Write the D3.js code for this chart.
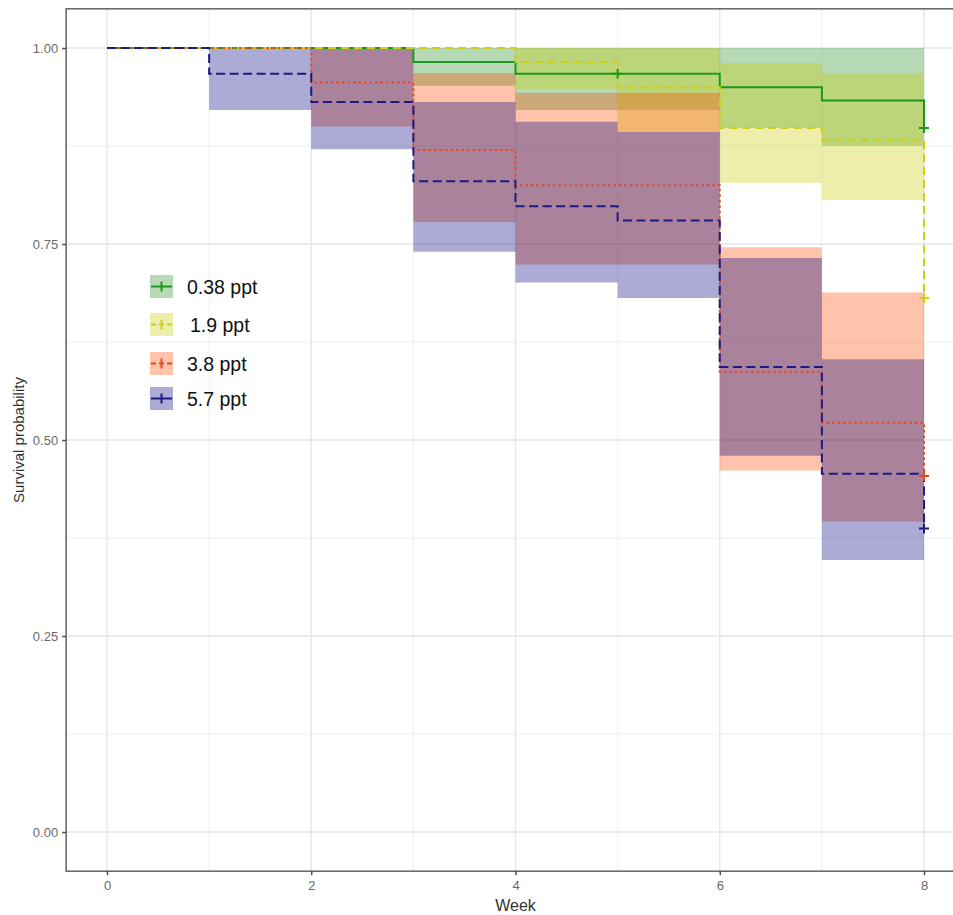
<!DOCTYPE html>
<html>
<head>
<meta charset="utf-8">
<script src="https://cdn.jsdelivr.net/npm/d3@7"></script>
<style>
  html, body { margin: 0; padding: 0; background: #fff; }
  svg { display: block; font-family: "Liberation Sans", Arial, sans-serif; }
</style>
</head>
<body>
<svg id="chart" width="953" height="915"></svg>
<script>
// ---- data ----
const weeks = [0, 1, 2, 3, 4, 5, 6, 7, 8];
const groups = ["0.38 ppt", "1.9 ppt", "3.8 ppt", "5.7 ppt"];

// survival at the start of each week interval; last value = after the drop at week 8
const survLow   = [1, 1, 1, 0.982, 0.967, 0.967, 0.950, 0.933, 0.898];
const survMid   = [1, 1, 1, 1, 0.982, 0.950, 0.898, 0.883, 0.681];
const survHigh  = [1, 1, 0.956, 0.870, 0.825, 0.825, 0.587, 0.522, 0.454];
const survMax   = [1, 0.967, 0.931, 0.830, 0.798, 0.780, 0.593, 0.457, 0.387];

// confidence band per interval (weeks 0-1 ... 7-8)
const lowerLow  = [1, 1, 1, 0.952, 0.921, 0.921, 0.898, 0.875];
const upperLow  = [1, 1, 1, 1, 1, 1, 1, 1];
const lowerMid  = [1, 1, 1, 1, 0.947, 0.893, 0.828, 0.806];
const upperMid  = [1, 1, 1, 1, 1, 1, 0.981, 0.968];
const lowerHigh = [1, 1, 0.900, 0.778, 0.724, 0.724, 0.461, 0.396];
const upperHigh = [1, 1, 1, 0.968, 0.943, 0.943, 0.746, 0.688];
const lowerMax  = [1, 0.921, 0.871, 0.740, 0.701, 0.681, 0.480, 0.347];
const upperMax  = [1, 1, 1, 0.931, 0.906, 0.893, 0.732, 0.603];

// censor marks: [week, survival]
const censorLow  = [[5, 0.967], [8, 0.898]];
const censorMid  = [[8, 0.681]];
const censorHigh = [[8, 0.454]];
const censorMax  = [[8, 0.387]];

const xTicks = [0, 2, 4, 6, 8];
const yTicks = [0, 0.25, 0.5, 0.75, 1];
const yTickLabels = ["0.00", "0.25", "0.50", "0.75", "1.00"];

// ---- styles ----
const series = [
  { name: groups[0], surv: survLow,  lo: lowerLow,  hi: upperLow,  cens: censorLow,  line: "#1c981c", fill: "#1f8f1f", dash: null,    keyDash: null },
  { name: groups[1], surv: survMid,  lo: lowerMid,  hi: upperMid,  cens: censorMid,  line: "#cbd11a", fill: "#cccc00", dash: "8,5",   keyDash: "5,3" },
  { name: groups[2], surv: survHigh, lo: lowerHigh, hi: upperHigh, cens: censorHigh, line: "#e64a22", fill: "#ff4500", dash: "2.5,3", keyDash: "5,3" },
  { name: groups[3], surv: survMax,  lo: lowerMax,  hi: upperMax,  cens: censorMax,  line: "#1d1a82", fill: "#000080", dash: "9,4.5", keyDash: null }
];
const bandOpacity = 0.33;

const svg = d3.select("#chart");
const x = d3.scaleLinear().domain([-0.4, 8.4]).range([66.15, 964.85]);
const y = d3.scaleLinear().domain([-0.05, 1.05]).range([871.2, 8.8]);

const panel = { x0: 66.15, x1: 964.85, y0: 8.8, y1: 871.2 };

// clip
svg.append("defs").append("clipPath").attr("id", "clipP")
  .append("rect").attr("x", panel.x0).attr("y", panel.y0)
  .attr("width", panel.x1 - panel.x0).attr("height", panel.y1 - panel.y0);

const g = svg.append("g").attr("clip-path", "url(#clipP)");

// grid: minor
const xMinor = [1, 3, 5, 7];
const yMinor = [0.125, 0.375, 0.625, 0.875];
g.selectAll(".xminor").data(xMinor).enter().append("line")
  .attr("x1", d => x(d)).attr("x2", d => x(d)).attr("y1", panel.y0).attr("y2", panel.y1)
  .attr("stroke", "#eeeeee").attr("stroke-width", 0.9);
g.selectAll(".yminor").data(yMinor).enter().append("line")
  .attr("y1", d => y(d)).attr("y2", d => y(d)).attr("x1", panel.x0).attr("x2", panel.x1)
  .attr("stroke", "#eeeeee").attr("stroke-width", 0.9);
// grid: major
g.selectAll(".xmajor").data(xTicks).enter().append("line")
  .attr("x1", d => x(d)).attr("x2", d => x(d)).attr("y1", panel.y0).attr("y2", panel.y1)
  .attr("stroke", "#e6e6e6").attr("stroke-width", 1.3);
g.selectAll(".ymajor").data(yTicks).enter().append("line")
  .attr("y1", d => y(d)).attr("y2", d => y(d)).attr("x1", panel.x0).attr("x2", panel.x1)
  .attr("stroke", "#e6e6e6").attr("stroke-width", 1.3);

// bands
const area = d3.area().curve(d3.curveStepAfter)
  .x(d => x(d.t)).y0(d => y(d.lo)).y1(d => y(d.hi));
series.forEach(s => {
  const pts = s.lo.map((lo, i) => ({ t: weeks[i], lo: lo, hi: s.hi[i] }));
  pts.push({ t: weeks[8], lo: s.lo[7], hi: s.hi[7] });
  g.append("path").attr("d", area(pts))
    .attr("fill", s.fill).attr("fill-opacity", bandOpacity).attr("stroke", "none");
});

// lines
const line = d3.line().curve(d3.curveStepAfter).x(d => x(d.t)).y(d => y(d.s));
series.forEach(s => {
  const pts = s.surv.map((v, i) => ({ t: weeks[i], s: v }));
  g.append("path").attr("d", line(pts))
    .attr("fill", "none").attr("stroke", s.line).attr("stroke-width", 2)
    .attr("stroke-dasharray", s.dash);
});

// censor marks
series.forEach(s => {
  s.cens.forEach(c => {
    const cx = x(c[0]), cy = y(c[1]);
    g.append("path").attr("d", `M${cx - 5},${cy}H${cx + 5}M${cx},${cy - 5}V${cy + 5}`)
      .attr("stroke", s.line).attr("stroke-width", 2).attr("fill", "none");
  });
});

// panel border
svg.append("rect").attr("x", panel.x0).attr("y", panel.y0)
  .attr("width", panel.x1 - panel.x0).attr("height", panel.y1 - panel.y0)
  .attr("fill", "none").attr("stroke", "#6b6b6b").attr("stroke-width", 1.6);

// axes
const xAxis = d3.axisBottom(x).tickValues(xTicks).tickSize(4).tickPadding(6).tickFormat(d3.format("d"));
const yAxis = d3.axisLeft(y).tickValues(yTicks).tickSize(4).tickPadding(4).tickFormat((d, i) => yTickLabels[i]);

const gx = svg.append("g").attr("transform", `translate(0,${panel.y1})`).call(xAxis);
const gy = svg.append("g").attr("transform", `translate(${panel.x0},0)`).call(yAxis);
[gx, gy].forEach(a => {
  a.select(".domain").remove();
  a.selectAll(".tick line").attr("stroke", "#444").attr("stroke-width", 1.4);
  a.selectAll(".tick text").attr("fill", "#6a6a6a").attr("font-size", 13)
    .attr("font-family", "Liberation Sans, Arial, sans-serif");
});

// axis titles
svg.append("text").attr("x", (panel.x0 + panel.x1) / 2).attr("y", 911)
  .attr("text-anchor", "middle").attr("font-size", 16).attr("fill", "#333").text("Week");
svg.append("text").attr("transform", `translate(24,${(panel.y0 + panel.y1) / 2}) rotate(-90)`)
  .attr("text-anchor", "middle").attr("font-size", 15).attr("fill", "#333").text("Survival probability");

// legend
const legend = svg.append("g").attr("transform", "translate(150,0)");
const keyTops = [275, 313, 352, 387];
series.forEach((s, i) => {
  const k = legend.append("g").attr("transform", `translate(0,${keyTops[i]})`);
  k.append("rect").attr("width", 23).attr("height", 23)
    .attr("fill", s.fill).attr("fill-opacity", bandOpacity);
  k.append("line").attr("x1", 1).attr("x2", 22).attr("y1", 11.5).attr("y2", 11.5)
    .attr("stroke", s.line).attr("stroke-width", 2).attr("stroke-dasharray", s.keyDash);
  k.append("line").attr("x1", 11.5).attr("x2", 11.5).attr("y1", 6.5).attr("y2", 16.5)
    .attr("stroke", s.line).attr("stroke-width", 2);
  k.append("text").attr("x", i === 1 ? 40 : 37).attr("y", 12).attr("dy", "0.35em")
    .attr("font-size", 19.5).attr("fill", "#111").text(s.name);
});
</script>
</body>
</html>
